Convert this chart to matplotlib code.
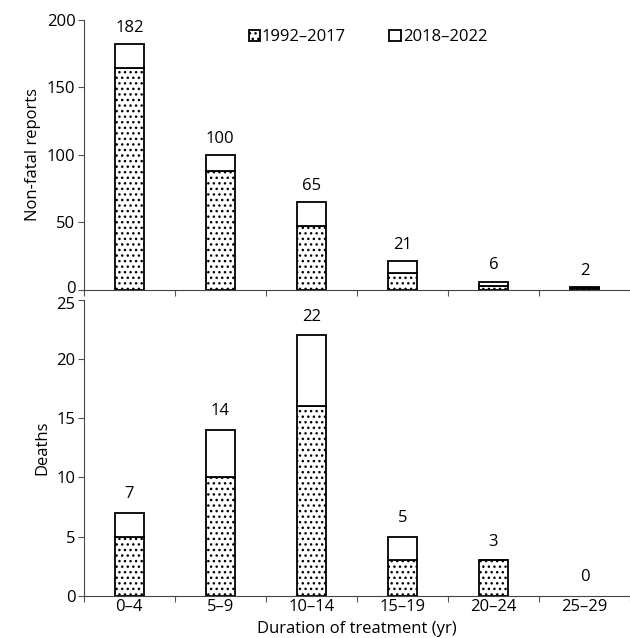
import matplotlib.pyplot as plt
import matplotlib.transforms as mtransforms
import numpy as np

plt.rcParams['font.family'] = ['Open Sans', 'DejaVu Sans']
plt.rcParams['hatch.linewidth'] = 1.0
plt.rcParams['hatch.color'] = '#888888'

durations = ['0–4', '5–9', '10–14', '15–19', '20–24', '25–29']
# non-fatal reports
nf_early = [164, 88, 47, 12, 3, 1]
nf_total = [182, 100, 65, 21, 6, 2]
# deaths
d_early = [5, 10, 16, 3, 3, 0]
d_total = [7, 14, 22, 5, 3, 0]

fig = plt.figure(figsize=(6.3, 6.38), dpi=100)
ax1 = fig.add_axes([0.133, 0.546, 0.867, 0.423])
ax2 = fig.add_axes([0.133, 0.066, 0.867, 0.464])

x = np.arange(len(durations))
w = 0.32
fs = 12

def draw(ax, early, total, ymax, step, off):
    late = [t - e for t, e in zip(total, early)]
    keep = [i for i, t in enumerate(total) if t > 0]
    ax.bar(x[keep], [early[i] for i in keep], w, color='white', edgecolor='black',
           linewidth=1.3, hatch='...', label='1992–2017')
    ax.bar(x[keep], [late[i] for i in keep], w, bottom=[early[i] for i in keep],
           color='white', edgecolor='black', linewidth=1.3, label='2018–2022')
    for xi, t in zip(x, total):
        ax.text(xi, t + off, str(t), ha='center', va='bottom', fontsize=fs)
    ax.set_xlim(-0.5, 5.5)
    ax.set_ylim(0, ymax)
    ax.set_yticks(np.arange(0, ymax + 1, step))
    ax.set_xticks(np.arange(-0.5, 5.6, 1))
    ax.set_xticklabels([])
    ax.set_xticks(x, minor=True)
    ax.spines['top'].set_visible(False)
    ax.spines['right'].set_visible(False)
    ax.spines['left'].set_color('#444444')
    ax.spines['bottom'].set_color('#444444')
    ax.tick_params(axis='both', which='both', labelsize=fs, color='#555555', length=4)
    ax.tick_params(axis='x', which='minor', length=0, pad=2)

draw(ax1, nf_early, nf_total, 200, 50, 6)
draw(ax2, d_early, d_total, 25, 5, 0.9)

ax2.set_xticklabels(durations, minor=True)
fig.text(0.133 + 0.867 / 2, 0.001, 'Duration of treatment (yr)', ha='center',
         va='bottom', fontsize=fs)

ax1.set_ylabel('Non-fatal reports', fontsize=fs, labelpad=4)
ax2.set_ylabel('Deaths', fontsize=fs, labelpad=4)
ax1.tick_params(axis='y', pad=2)
ax2.tick_params(axis='y', pad=2)

# keep the touching "0" and "25" labels apart
fig.canvas.draw()
up = mtransforms.ScaledTranslation(0, 2 / 72, fig.dpi_scale_trans)
down = mtransforms.ScaledTranslation(0, -2 / 72, fig.dpi_scale_trans)
lab0 = ax1.get_yticklabels()[0]
lab0.set_transform(lab0.get_transform() + up)
lab25 = ax2.get_yticklabels()[-1]
lab25.set_transform(lab25.get_transform() + down)

ax1.legend(loc='upper center', bbox_to_anchor=(0.52, 1.02), ncol=2, frameon=False,
           fontsize=fs, handlelength=0.7, handleheight=0.7, handletextpad=0.1,
           columnspacing=2.6)

fig.savefig('out.png', dpi=100)
